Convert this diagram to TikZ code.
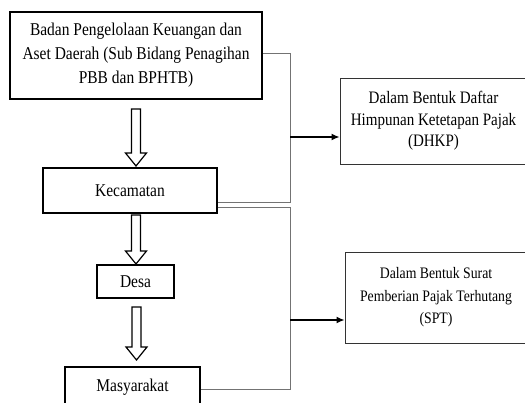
\documentclass[tikz,border=0pt]{standalone}
\usepackage{fontspec}
\setmainfont{Liberation Serif}[FakeStretch=0.86]
\usetikzlibrary{arrows.meta,positioning,calc}

% hollow block arrow: x centre, y of tail, y of tip
\newcommand{\hollowarrow}[3]{%
	\draw[hollow] (#1-4.5,#2) -- (#1-4.5,#3-13) -- (#1-10.5,#3-13) -- (#1,#3)
	-- (#1+10.5,#3-13) -- (#1+4.5,#3-13) -- (#1+4.5,#2) -- cycle;}

\begin{document}
\begin{tikzpicture}[
		x=1pt,y=-1pt,
		lab/.style={font=\fontsize{18}{24}\selectfont},
		box/.style={draw=black,line width=1.4pt,align=center,inner sep=0pt,lab},
		outbox/.style={draw=black!80,line width=0.9pt,align=center,inner sep=0pt},
		link/.style={draw=black!55,line width=1pt},
		arr/.style={-{Latex[length=8pt,width=7pt]},line width=1.4pt},
		hollow/.style={draw=black,line width=1.2pt,fill=white,line join=miter}
		]
		
		\useasboundingbox (0,0) rectangle (525,402);
		\clip (0,0) rectangle (525,402);
		
		% --- left column
		\node[box,minimum width=252pt,minimum height=87pt] (badan) at (136,55.5)
		{Badan Pengelolaan Keuangan dan\\Aset Daerah (Sub Bidang Penagihan\\PBB dan BPHTB)};
		\node[box,minimum width=174pt,minimum height=45pt] (kec) at (130,190.5) {Kecamatan};
		\node[box,minimum width=77pt,minimum height=33pt] (desa) at (135.5,281.5) {Desa};
		\node[box,minimum width=135pt,minimum height=40pt] (masy) at (132.5,387) {Masyarakat};
		
		% --- hollow arrows between the levels
		\hollowarrow{136}{109}{166}
		\hollowarrow{136}{215}{264}
		\hollowarrow{136.5}{307}{360}
		
		% --- right column
		\node[outbox,minimum width=187pt,minimum height=86pt,
			font=\fontsize{17.5}{21.5}\selectfont] (dhkp) at (433.5,121)
		{Dalam Bentuk Daftar\\Himpunan Ketetapan Pajak\\(DHKP)};
		\node[outbox,minimum width=182pt,minimum height=91pt,
			font=\fontsize{16}{22.5}\selectfont] (spt) at (436,297.5)
		{Dalam Bentuk Surat\\Pemberian Pajak Terhutang\\(SPT)};
		
		% --- joints on the trunk
		\coordinate (j1) at (290,53);
		\coordinate (j2) at (290,202);
		\coordinate (j3) at (290,207);
		\coordinate (j4) at (290,389);
		\coordinate (jd) at (290,137);
		\coordinate (js) at (290,320);
		
		\draw[link] (badan.east |- j1) -- (j1) -- (j2) -- (kec.east |- j2);
		\draw[link] (kec.east |- j3) -- (j3) -- (j4) -- (masy.east |- j4);
		
		\draw[arr] (jd) -- (dhkp.west |- jd);
		\draw[arr] (js) -- (spt.west |- js);
		
	\end{tikzpicture}
\end{document}
